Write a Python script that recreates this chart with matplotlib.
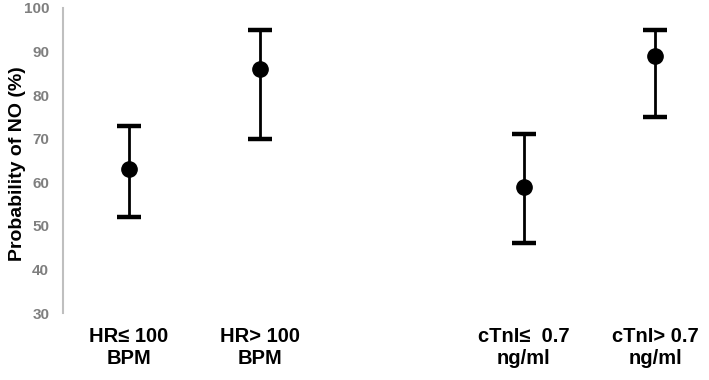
import matplotlib.pyplot as plt

labels = ["HR\u2264 100\nBPM", "HR> 100\nBPM", "cTnI\u2264  0.7\nng/ml", "cTnI> 0.7\nng/ml"]
positions = [0, 1, 3, 4]
prob = [63, 86, 59, 89]
upper = [73, 95, 71, 95]
lower = [52, 70, 46, 75]

plt.rcParams['font.family'] = ['Liberation Sans', 'DejaVu Sans']

fig = plt.figure(figsize=(7.09, 3.8), dpi=100)
ax = fig.add_axes([0.089, 0.176, 0.911, 0.803])

err = [[p - l for p, l in zip(prob, lower)], [u - p for p, u in zip(prob, upper)]]
ax.errorbar(positions, prob, yerr=err, fmt='o', color='black', markersize=11,
            elinewidth=2, capsize=8.5, capthick=3.2)

ax.set_xlim(-0.5, 4.41)
ax.set_ylim(30, 100)
ax.set_yticks(range(30, 101, 10))
ax.set_xticks(positions)
ax.set_xticklabels(labels, fontsize=14.5, fontweight='bold')
for t in ax.get_yticklabels():
    t.set_fontweight('bold')
    t.set_color('#7f7f7f')
    t.set_fontsize(11)
ax.tick_params(axis='y', length=0, pad=10)
ax.tick_params(axis='x', length=0, pad=10)

for s in ['top', 'right', 'bottom']:
    ax.spines[s].set_visible(False)
ax.spines['left'].set_color('#bfbfbf')
ax.spines['left'].set_linewidth(1.5)

ax.set_ylabel('Probability of NO (%)', fontsize=14, fontweight='bold')
ax.yaxis.set_label_coords(-0.058, 0.49)

fig.savefig('out.png', dpi=100)
